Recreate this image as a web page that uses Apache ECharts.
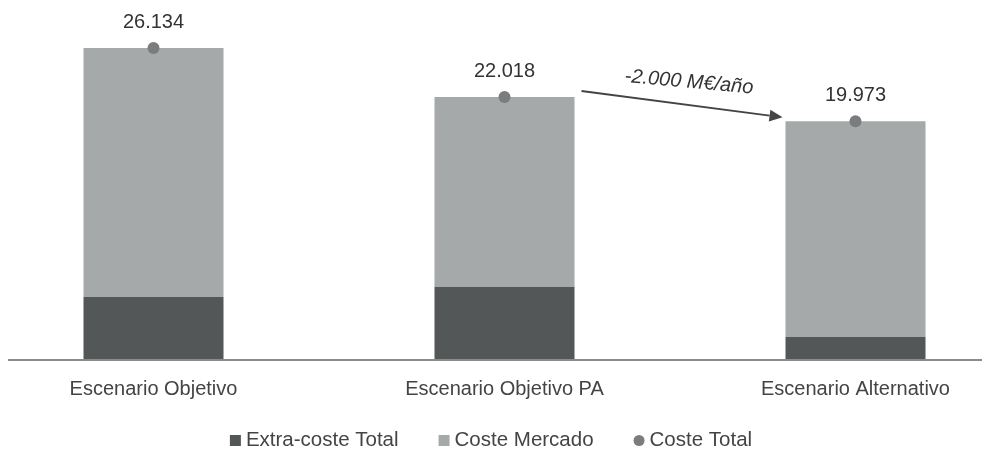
<!DOCTYPE html>
<html>
<head>
<meta charset="utf-8">
<script src="https://cdn.jsdelivr.net/npm/echarts@6/dist/echarts.min.js"></script>
<style>
  html, body { margin: 0; padding: 0; background: #fff; }
  #main { width: 982px; height: 458px; }
</style>
</head>
<body>
<div id="main"></div>
<script>
// datos del grafico
var categorias = ['Escenario Objetivo', 'Escenario Objetivo PA', 'Escenario Alternativo'];
var extraCoste = [5200, 6100, 1850];
var costeTotal = [26134, 22018, 19973];
var costeMercado = [20934, 15918, 18123];
var etiquetaFlecha = '-2.000 M€/año';

function formatoES(v) {
    var s = String(Math.round(v));
    return s.replace(/\B(?=(\d{3})+(?!\d))/g, '.');
}

var fuente = 'Liberation Sans';
var myChart = echarts.init(document.getElementById('main'));

var option = {
    animation: false,
    textStyle: { fontFamily: fuente },
    grid: { left: -22, right: -49, top: 2, bottom: 99, outerBoundsMode: 'none', containLabel: false },
    legend: {
        bottom: 2,
        left: 'center',
        itemWidth: 11,
        itemHeight: 11,
        itemGap: 40,
        textStyle: { fontSize: 20.5, color: '#444' },
        data: [
            { name: 'Extra-coste Total', icon: 'rect' },
            { name: 'Coste Mercado', icon: 'rect' },
            { name: 'Coste Total', icon: 'circle' }
        ]
    },
    xAxis: {
        type: 'category',
        data: categorias,
        axisTick: { show: false },
        axisLine: { show: false },
        axisLabel: { fontSize: 20, color: '#444', margin: 20 }
    },
    yAxis: {
        type: 'value',
        min: 0,
        max: 30000,
        show: false,
        splitLine: { show: false }
    },
    series: [
        {
            name: 'Extra-coste Total',
            type: 'bar',
            stack: 'total',
            barWidth: 140,
            itemStyle: { color: '#545757' },
            data: extraCoste
        },
        {
            name: 'Coste Mercado',
            type: 'bar',
            stack: 'total',
            barWidth: 140,
            itemStyle: { color: '#a6a9a9' },
            data: costeMercado
        },
        {
            name: 'Coste Total',
            type: 'line',
            symbol: 'circle',
            symbolSize: 12,
            lineStyle: { width: 0, opacity: 0 },
            itemStyle: { color: '#7a7d7d' },
            label: {
                show: true,
                position: 'top',
                distance: 10,
                fontSize: 20,
                color: '#333',
                formatter: function (p) { return formatoES(p.value); }
            },
            z: 5,
            data: costeTotal
        }
    ]
};

myChart.setOption(option);

// linea base y flecha entre el escenario PA y el alternativo
var base = myChart.convertToPixel({ yAxisIndex: 0 }, 0);
var p1 = myChart.convertToPixel({ seriesIndex: 2 }, [1, costeTotal[1]]);
var p2 = myChart.convertToPixel({ seriesIndex: 2 }, [2, costeTotal[2]]);
var x1 = p1[0] + 77, y1 = p1[1] - 6;
var x2 = p2[0] - 73, y2 = p2[1] - 4;
var ang = Math.atan2(y2 - y1, x2 - x1);
var L = 13, W = 6;
var bx = x2 - L * Math.cos(ang), by = y2 - L * Math.sin(ang);

myChart.setOption({
    graphic: [
        {
            type: 'line',
            shape: { x1: 8, y1: base + 1, x2: 982, y2: base + 1 },
            style: { stroke: '#8a8c8c', lineWidth: 2 }
        },
        {
            type: 'line',
            shape: { x1: x1, y1: y1, x2: bx, y2: by },
            style: { stroke: '#444', lineWidth: 2 }
        },
        {
            type: 'polygon',
            shape: {
                points: [
                    [x2, y2],
                    [bx + W * Math.sin(ang), by - W * Math.cos(ang)],
                    [bx - W * Math.sin(ang), by + W * Math.cos(ang)]
                ]
            },
            style: { fill: '#444' }
        },
        {
            type: 'text',
            x: (x1 + x2) / 2 + 7,
            y: (y1 + y2) / 2 - 22,
            rotation: -0.09,
            style: {
                text: etiquetaFlecha,
                font: 'italic 20px ' + fuente,
                fill: '#333',
                align: 'center',
                verticalAlign: 'middle'
            }
        }
    ]
});
</script>
</body>
</html>
